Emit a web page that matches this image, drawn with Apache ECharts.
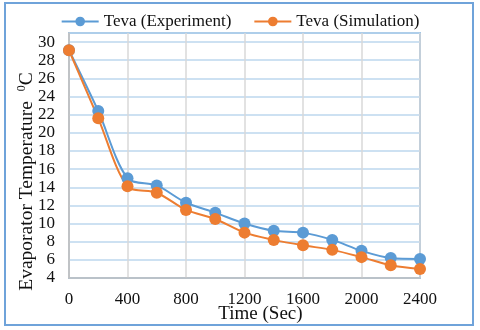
<!DOCTYPE html>
<html>
<head>
<meta charset="utf-8">
<script src="https://cdn.jsdelivr.net/npm/echarts@6/dist/echarts.min.js"></script>
<style>html,body{margin:0;padding:0;background:#fff}#c{width:480px;height:330px}</style>
</head>
<body>
<div id="c"></div>
<script>
var times = [0, 200, 400, 600, 800, 1000, 1200, 1400, 1600, 1800, 2000, 2200, 2400];
var experiment = [29.1, 22.4, 15.0, 14.2, 12.3, 11.2, 10.0, 9.2, 9.0, 8.2, 7.0, 6.2, 6.1];
var simulation = [29.1, 21.6, 14.1, 13.4, 11.5, 10.5, 9.0, 8.2, 7.6, 7.1, 6.3, 5.4, 5.0];
var seriesNames = ['Teva (Experiment)', 'Teva (Simulation)'];
var xTitle = 'Time (Sec)';

function pairs(vals) { return times.map(function (t, i) { return [t, vals[i]]; }); }

var font = 'Liberation Serif';
var chart = echarts.init(document.getElementById('c'), null, {renderer: 'canvas'});
chart.setOption({
  animation: false,
  color: ['#5B9BD5', '#ED7D31'],
  graphic: [{
    type: 'rect', shape: {x: 5, y: 3, width: 468, height: 322},
    style: {fill: 'none', stroke: '#6FA3DA', lineWidth: 2}, z: -1
  }],
  legend: {
    top: 8, left: 'center', itemWidth: 37, itemHeight: 12, itemGap: 22,
    textStyle: {fontFamily: font, fontSize: 17, color: '#111'},
    data: seriesNames
  },
  grid: {left: 69, right: 60, top: 33, bottom: 52, show: true, borderColor: '#5B9BD5', borderWidth: 1.5},
  xAxis: {
    type: 'value', min: 0, max: 2400, interval: 400,
    name: xTitle, nameLocation: 'middle', nameGap: 27, nameMoveOverlap: false,
    nameTextStyle: {fontFamily: font, fontSize: 19, color: '#111', padding: [0, 0, 0, 32]},
    axisLine: {show: true, lineStyle: {color: '#BFBFBF', width: 1.5}},
    axisTick: {show: false},
    axisLabel: {fontFamily: font, fontSize: 17, color: '#111', margin: 13,
                formatter: function (v) { return String(v); }},
    splitLine: {show: true, lineStyle: {color: '#D9D9D9', width: 1.5}}
  },
  yAxis: {
    type: 'value', min: 4, max: 31, interval: 2,
    name: '{a|Evaporator Temperature  }{s|0}{a|C}', nameLocation: 'middle', nameGap: 31, nameMoveOverlap: false,
    nameTextStyle: {
      fontFamily: font, fontSize: 19, color: '#111', padding: [0, 52, 0, 0],
      rich: {
        a: {fontFamily: font, fontSize: 19.5, color: '#111', lineHeight: 22},
        s: {fontFamily: font, fontSize: 12, color: '#111', lineHeight: 12, verticalAlign: 'top'}
      }
    },
    axisLine: {show: true, lineStyle: {color: '#BFBFBF', width: 1.5}},
    axisTick: {show: false},
    axisLabel: {fontFamily: font, fontSize: 17, color: '#111', margin: 14, showMaxLabel: false},
    splitLine: {show: true, lineStyle: {color: '#BDD7EE', width: 1.5}}
  },
  series: [
    {name: seriesNames[0], type: 'line', smooth: 0.3, data: pairs(experiment),
     symbol: 'circle', symbolSize: 12, lineStyle: {width: 2}},
    {name: seriesNames[1], type: 'line', smooth: 0.3, data: pairs(simulation),
     symbol: 'circle', symbolSize: 12, lineStyle: {width: 2}}
  ]
});
</script>
</body>
</html>
